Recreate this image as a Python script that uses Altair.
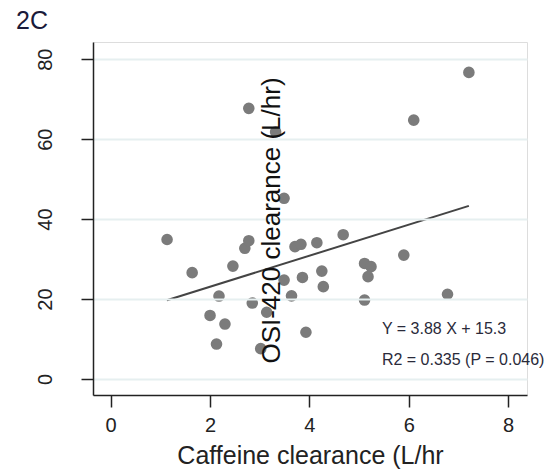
import altair as alt
import pandas as pd

caffeine = [2.78, 3.32, 6.10, 7.21, 3.49, 1.135, 1.64, 2.46, 2.18, 2.00, 2.30, 2.13,
            2.70, 2.78, 2.85, 3.02, 3.14, 3.49, 3.64, 3.71, 3.83, 3.86, 3.93, 4.15,
            4.25, 4.28, 4.68, 5.11, 5.24, 5.18, 5.11, 5.90, 6.78]
osi = [67.7, 61.8, 64.75, 76.7, 45.2, 34.9, 26.6, 28.25, 20.75, 15.9, 13.75, 8.75,
       32.7, 34.6, 19.0, 7.6, 16.7, 24.75, 20.8, 33.1, 33.7, 25.4, 11.7, 34.1,
       27.0, 23.1, 36.1, 28.9, 28.1, 25.6, 19.75, 31.0, 21.2]

line_x = [1.13, 7.21]
line_y = [19.7, 43.3]

ann_x = [5.46, 5.46]
ann_y = [12.5, 4.75]
ann_text = ["Y = 3.88 X + 15.3", "R2 = 0.335 (P = 0.046)"]

x_ticks = [0, 2, 4, 6, 8]
y_ticks = [0, 20, 40, 60, 80]

FONT = "Liberation Sans"
INK = "#222222"

pts = pd.DataFrame({"x": caffeine, "y": osi})
ln = pd.DataFrame({"x": line_x, "y": line_y})
ann = pd.DataFrame({"x": ann_x, "y": ann_y, "t": ann_text})

xscale = alt.Scale(domain=[-0.356, 8.38], nice=False, zero=False)
yscale = alt.Scale(domain=[-4.0, 84.3], nice=False, zero=False)

xaxis = alt.Axis(
    title="Caffeine clearance (L/hr", values=x_ticks, grid=False,
    domainColor=INK, domainWidth=1.5, tickColor=INK, tickWidth=1.5, tickSize=12,
    labelFont=FONT, labelFontSize=20, labelColor=INK, labelPadding=8,
    titleFont=FONT, titleFontSize=25, titleFontWeight="normal", titleColor=INK,
    titlePadding=8,
)
yaxis = alt.Axis(
    title="OSI-420 clearance (L/hr)", values=y_ticks,
    grid=True, gridColor="#e6eff0", gridWidth=2,
    domainColor=INK, domainWidth=1.5, tickColor=INK, tickWidth=1.5, tickSize=12,
    labelFont=FONT, labelFontSize=20, labelColor=INK, labelAngle=270,
    labelAlign="center", labelBaseline="middle", labelPadding=36,
    titleFont=FONT, titleFontSize=26, titleFontWeight="normal", titleColor="#111111",
    titleAngle=270, titleAlign="center", titleBaseline="middle",
    titleX=178, titleY=178, zindex=1,
)

points = alt.Chart(pts).mark_circle(size=135, color="#7b7b7b", opacity=1).encode(
    x=alt.X("x:Q", scale=xscale, axis=xaxis),
    y=alt.Y("y:Q", scale=yscale, axis=yaxis),
)

line = alt.Chart(ln).mark_line(color="#444444", strokeWidth=2).encode(
    x=alt.X("x:Q", scale=xscale),
    y=alt.Y("y:Q", scale=yscale),
)

text = alt.Chart(ann).mark_text(
    align="left", baseline="middle", font=FONT, fontSize=16, color="#2a2a3a"
).encode(
    x=alt.X("x:Q", scale=xscale),
    y=alt.Y("y:Q", scale=yscale),
    text="t:N",
)

chart = alt.layer(line, points, text).properties(
    width=434, height=353,
    title=alt.TitleParams("2C", anchor="start", frame="group", font=FONT, fontSize=25,
                          fontWeight="normal", color="#1a1a3a", dx=-77, offset=8),
    autosize=alt.AutoSizeParams(type="none"),
    padding={"left": 93, "top": 42, "right": 22, "bottom": 74},
).configure_view(stroke=None).configure(background="white")

chart.save("out.html", embed_options={"renderer": "svg", "actions": False})
